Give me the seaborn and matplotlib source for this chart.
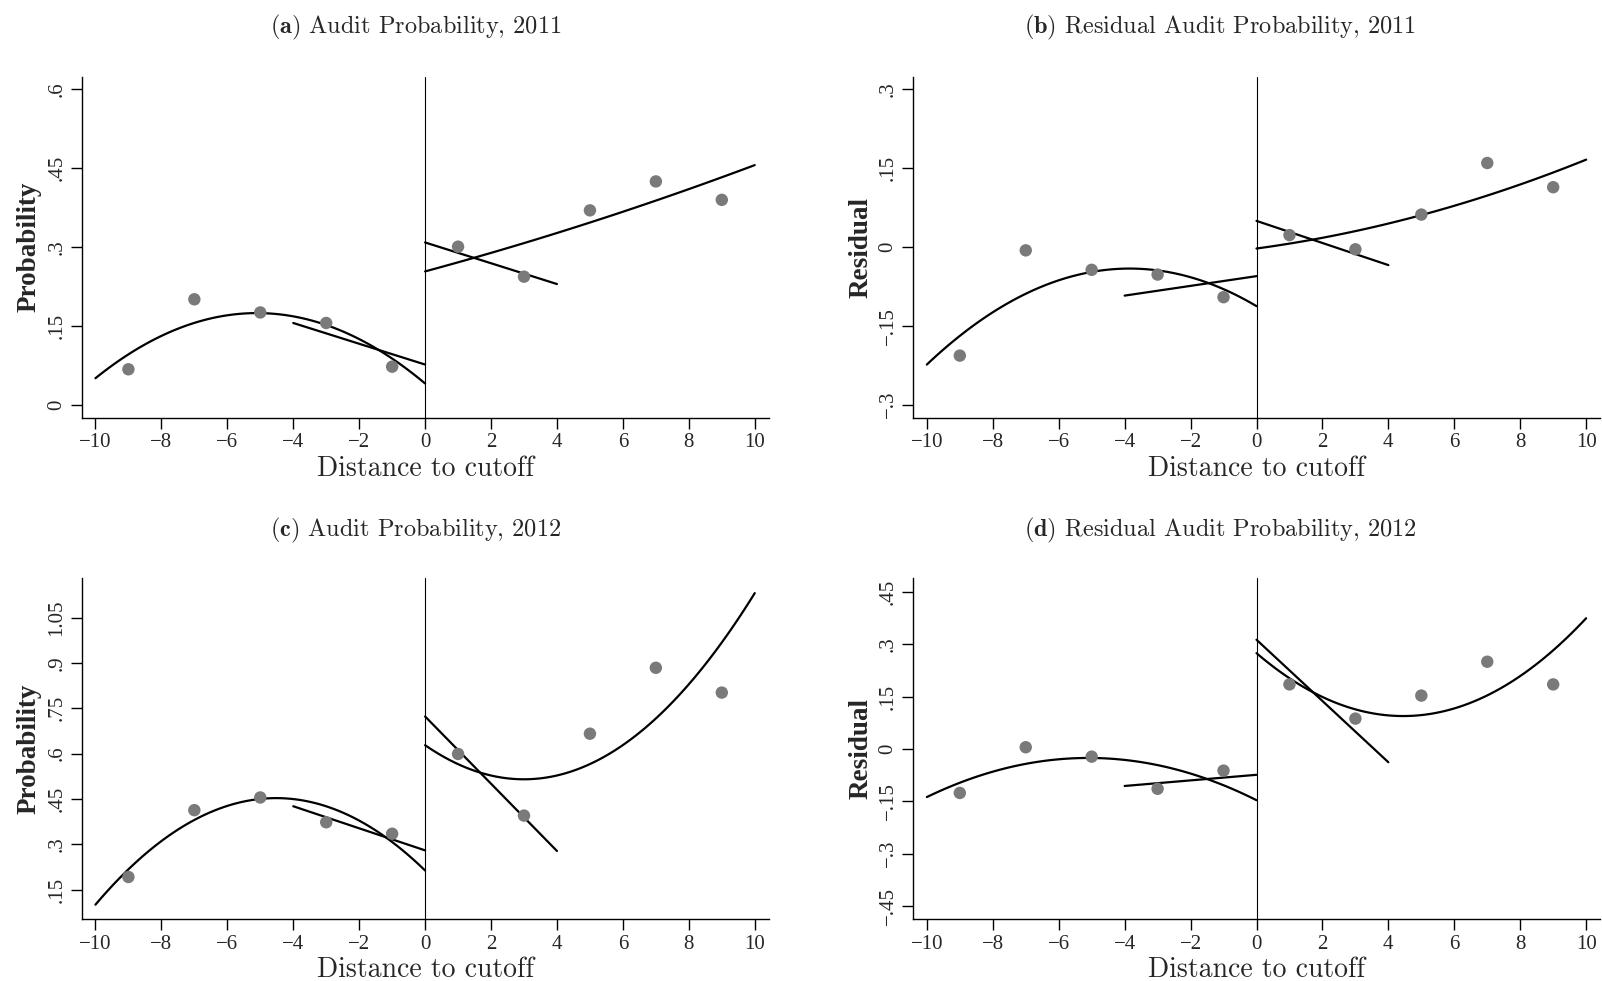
import numpy as np
import pandas as pd
import seaborn as sns
import matplotlib.pyplot as plt

# binned means (distance to cutoff, value)
bins_x = [-9, -7, -5, -3, -1, 1, 3, 5, 7, 9]
prob_2011 = [0.067, 0.200, 0.175, 0.155, 0.072, 0.300, 0.243, 0.369, 0.424, 0.389]
resid_2011 = [-0.207, -0.007, -0.044, -0.053, -0.096, 0.022, -0.005, 0.061, 0.159, 0.113]
prob_2012 = [0.192, 0.413, 0.455, 0.373, 0.335, 0.599, 0.395, 0.666, 0.884, 0.802]
resid_2012 = [-0.126, 0.005, -0.022, -0.114, -0.062, 0.185, 0.087, 0.153, 0.250, 0.185]

# quadratic fits [c0, c1, c2] on each side of the cutoff
quad_left = {
    "a": [0.040, -0.0525, -0.00515],
    "b": [-0.113, -0.0371, -0.00482],
    "c": [0.2134, -0.1060, -0.01173],
    "d": [-0.1468, -0.0475, -0.00466],
}
quad_right = {
    "a": [0.253, 0.01695, 0.000325],
    "b": [-0.0035, 0.00851, 0.000838],
    "c": [0.628, -0.0753, 0.01256],
    "d": [0.2746, -0.0810, 0.0091],
}
# local linear fits: values at (-4, 0) and (0, 4)
lin_left = {"a": [0.155, 0.076], "b": [-0.093, -0.056], "c": [0.426, 0.280], "d": [-0.106, -0.074]}
lin_right = {"a": [0.308, 0.229], "b": [0.049, -0.035], "c": [0.723, 0.278], "d": [0.313, -0.038]}

titles = {
    "a": ("(a)", "Audit Probability, 2011"),
    "b": ("(b)", "Residual Audit Probability, 2011"),
    "c": ("(c)", "Audit Probability, 2012"),
    "d": ("(d)", "Residual Audit Probability, 2012"),
}
ylabels = {"a": "Probability", "b": "Residual", "c": "Probability", "d": "Residual"}
yticks = {
    "a": [0, 0.15, 0.3, 0.45, 0.6],
    "b": [-0.3, -0.15, 0, 0.15, 0.3],
    "c": [0.15, 0.3, 0.45, 0.6, 0.75, 0.9, 1.05],
    "d": [-0.45, -0.3, -0.15, 0, 0.15, 0.3, 0.45],
}
yticklabels = {
    "a": ["0", ".15", ".3", ".45", ".6"],
    "b": ["\u2212.3", "\u2212.15", "0", ".15", ".3"],
    "c": [".15", ".3", ".45", ".6", ".75", ".9", "1.05"],
    "d": ["\u2212.45", "\u2212.3", "\u2212.15", "0", ".15", ".3", ".45"],
}
ylims = {"a": (-0.025, 0.623), "b": (-0.325, 0.323), "c": (0.052, 1.18), "d": (-0.488, 0.489)}
xticks = [-10, -8, -6, -4, -2, 0, 2, 4, 6, 8, 10]
xticklabels = ["\u221210", "\u22128", "\u22126", "\u22124", "\u22122", "0", "2", "4", "6", "8", "10"]
values = {"a": prob_2011, "b": resid_2011, "c": prob_2012, "d": resid_2012}

sns.set_style("ticks")
plt.rcParams["font.family"] = ["cmr10"]
plt.rcParams["mathtext.fontset"] = "cm"
plt.rcParams["axes.unicode_minus"] = False

fig = plt.figure(figsize=(16.02, 9.81), dpi=100)
W, H = 1602, 981
rects = {
    "a": (81.6, 76.7), "b": (913, 76.7),
    "c": (81.6, 578.3), "d": (913, 578.3),
}
title_x = {"a": 416, "b": 1220, "c": 416, "d": 1220}
title_y = {"a": 27, "b": 27, "c": 530, "d": 530}

for key in ["a", "b", "c", "d"]:
    left, top = rects[key]
    ax = fig.add_axes([left / W, 1 - (top + 341) / H, 687 / W, 341 / H])
    df = pd.DataFrame({"x": bins_x, "y": values[key]})

    xl = np.linspace(-10, 0, 100)
    xr = np.linspace(0, 10, 100)
    cl = quad_left[key]
    cr = quad_right[key]
    sns.lineplot(x=xl, y=cl[0] + cl[1] * xl + cl[2] * xl ** 2, color="black", lw=1.6, ax=ax)
    sns.lineplot(x=xr, y=cr[0] + cr[1] * xr + cr[2] * xr ** 2, color="black", lw=1.6, ax=ax)
    sns.lineplot(x=[-4, 0], y=lin_left[key], color="black", lw=1.6, ax=ax)
    sns.lineplot(x=[0, 4], y=lin_right[key], color="black", lw=1.6, ax=ax)
    sns.scatterplot(data=df, x="x", y="y", color="#7a7a7a", s=80, edgecolor="none", ax=ax, zorder=3)
    ax.axvline(0, color="black", lw=0.8)

    ax.set_xlim(-10.42, 10.42)
    ax.set_ylim(*ylims[key])
    ax.set_xticks(xticks)
    ax.set_xticklabels(xticklabels, fontsize=15, family="Liberation Serif")
    ax.set_yticks(yticks[key])
    ax.set_yticklabels(yticklabels[key], fontsize=15, family="Liberation Serif",
                       rotation=90, va="center")
    ax.tick_params(length=8, width=1, color="black", pad=3)
    sns.despine(ax=ax)
    for s in ["left", "bottom"]:
        ax.spines[s].set_linewidth(1.0)
        ax.spines[s].set_color("black")
    ax.set_xlabel("Distance to cutoff", fontsize=20, labelpad=2.5)
    ax.set_ylabel(ylabels[key], fontsize=19.5, family="Liberation Serif",
                  fontweight="bold", labelpad=4)

    lab, txt = titles[key]
    fig.text(title_x[key] / W, 1 - title_y[key] / H, r"$\mathbf{" + lab + "}$ " + txt,
             ha="center", va="center", fontsize=17.5)

fig.savefig("out.png", dpi=100)
